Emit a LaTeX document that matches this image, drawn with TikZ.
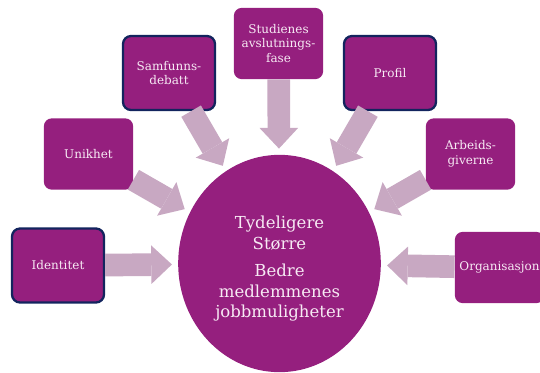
\documentclass[tikz,border=0pt]{standalone}
\usepackage{fontspec}
\setmainfont{DejaVu Serif}
\usetikzlibrary{arrows.meta,shapes.geometric}
\definecolor{plum}{HTML}{951F7E}
\definecolor{mauve}{HTML}{C8A8C2}
\definecolor{navy}{HTML}{13245E}
\definecolor{pale}{HTML}{F7EAF4}
\begin{document}
\begin{tikzpicture}[x=0.75pt,y=-0.75pt,
    box/.style={fill=plum,rounded corners=6pt,text=pale,align=center,
        font=\fontsize{9}{11}\selectfont,inner sep=2pt,
        minimum width=67pt,minimum height=53.5pt},
    edged/.style={box,draw=navy,line width=1.7pt,
        minimum width=69pt,minimum height=55.5pt},
    hubstyle/.style={ellipse,fill=plum,text=pale,align=center,inner sep=0pt,
        font=\fontsize{12.4}{15.5}\selectfont,
        minimum width=152pt,minimum height=163pt},
    flow/.style={draw=mauve,line width=17pt,shorten >=4.5pt,
        -{Triangle[length=15.5pt,width=29pt,line width=0pt]}}]
\useasboundingbox (0,0) rectangle (540,372);
\node[hubstyle] (hub) at (279.5,263.5)
    {\rule{0pt}{17pt}Tydeligere\\Større\\[5pt]Bedre\\medlemmenes\\jobbmuligheter};
\node[edged] (ident) at (58,265.5) {Identitet};
\node[box] (unik) at (88.5,154) {Unikhet};
\node[edged] (samf) at (169,73) {Samfunns-\\debatt};
\node[box] (stud) at (278.5,43.5) {Studienes\\avslutnings-\\fase};
\node[edged] (prof) at (390,73) {Profil};
\node[box] (arb) at (470.5,154) {Arbeids-\\giverne};
\node[box] (org) at (499.5,267.5) {Organisasjon};
\foreach \b in {ident,unik,samf,stud,prof,arb,org} {
    \draw[flow] (\b) -- (hub);
}
\end{tikzpicture}
\end{document}
